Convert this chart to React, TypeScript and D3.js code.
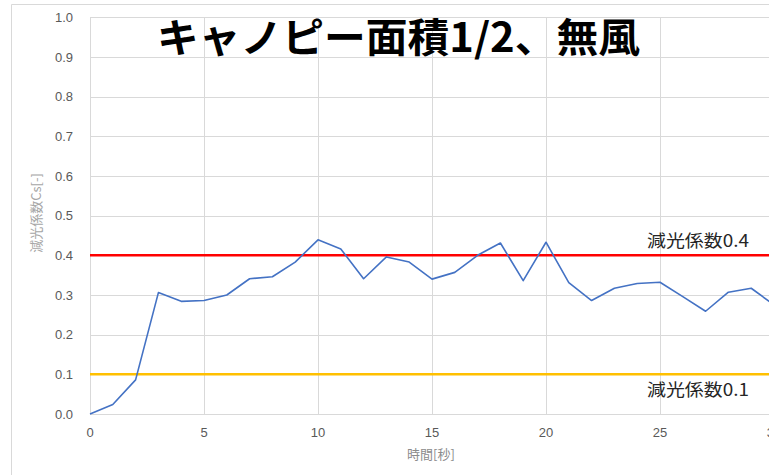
import React from 'react'
import * as d3 from 'd3'

// 時間[秒] と 減光係数Cs
const seconds = d3.range(0, 31)
const cs = [
	0.0, 0.024, 0.086, 0.306, 0.284, 0.286, 0.3, 0.341, 0.346, 0.383, 0.439,
	0.416, 0.341, 0.396, 0.383, 0.34, 0.357, 0.4, 0.431, 0.336, 0.433,
	0.331, 0.286, 0.317, 0.329, 0.332, 0.296, 0.259, 0.307, 0.317, 0.275
]
const xTicks = [0, 5, 10, 15, 20, 25, 30]
const yTicks = [0, 0.1, 0.2, 0.3, 0.4, 0.5, 0.6, 0.7, 0.8, 0.9, 1.0]
const refLines = [
	{ value: 0.4, label: '減光係数0.4', color: '#ff0000' },
	{ value: 0.1, label: '減光係数0.1', color: '#ffc000' }
]
const title = 'キャノピー面積1/2、無風'

const W = 769
const H = 475
const jp = '"Noto Sans CJK JP", sans-serif'

const App = () => {
	const x = d3.scaleLinear().domain([0, 30]).range([90, 774])
	const y = d3.scaleLinear().domain([0, 1]).range([414, 17.3])
	const line = d3
		.line<number>()
		.x((_, i) => x(seconds[i]))
		.y((d) => y(d))

	return (
		<svg
			width={W}
			height={H}
			style={{ position: 'absolute', left: 0, top: 0, background: '#fff' }}
		>
			{/* 外枠 */}
			<path d={`M11.5,${H} V4.5 H${W}`} fill="none" stroke="#d9d9d9" />
			{/* グリッド */}
			<g stroke="#d9d9d9" strokeWidth={1}>
				{yTicks.map((t) => (
					<line key={'h' + t} x1={90} x2={W} y1={Math.round(y(t)) + 0.5} y2={Math.round(y(t)) + 0.5} />
				))}
				{xTicks.map((t) => (
					<line key={'v' + t} x1={Math.round(x(t)) + 0.5} x2={Math.round(x(t)) + 0.5} y1={y(1)} y2={y(0)} />
				))}
			</g>
			{/* 目盛 */}
			<g fill="#595959" fontSize={13} fontFamily='"Liberation Sans", Arial, sans-serif'>
				{yTicks.map((t) => (
					<text key={'yl' + t} x={73} y={y(t)} dy="0.35em" textAnchor="end">
						{t.toFixed(1)}
					</text>
				))}
				{xTicks.map((t) => (
					<text key={'xl' + t} x={x(t)} y={437} textAnchor="middle">
						{t}
					</text>
				))}
			</g>
			<text
				x={431}
				y={459}
				textAnchor="middle"
				fontSize={13}
				fill="#8c8c8c"
				fontFamily={jp}
			>
				時間[秒]
			</text>
			<text
				transform={`translate(41,${213}) rotate(-90)`}
				textAnchor="middle"
				fontSize={13}
				fill="#a6a6a6"
				fontFamily={jp}
			>
				減光係数Cs[-]
			</text>
			{/* 基準線 */}
			{refLines.map((r) => (
				<line
					key={r.label}
					x1={90}
					x2={W}
					y1={y(r.value)}
					y2={y(r.value)}
					stroke={r.color}
					strokeWidth={2.5}
				/>
			))}
			<path d={line(cs) || ''} fill="none" stroke="#4472c4" strokeWidth={1.6} strokeLinejoin="round" />
			{refLines.map((r, i) => (
				<text
					key={'t' + r.label}
					x={647}
					y={i === 0 ? 247 : 396}
					fontSize={17}
					fill="#262626"
					fontFamily={jp}
					textLength={102}
					lengthAdjust="spacingAndGlyphs"
				>
					{r.label}
				</text>
			))}
			<text
				x={157}
				y={52}
				fontSize={40}
				fontWeight="bold"
				fill="#000"
				fontFamily={jp}
				textLength={483}
				lengthAdjust="spacingAndGlyphs"
			>
				{title}
			</text>
		</svg>
	)
}

export default App
